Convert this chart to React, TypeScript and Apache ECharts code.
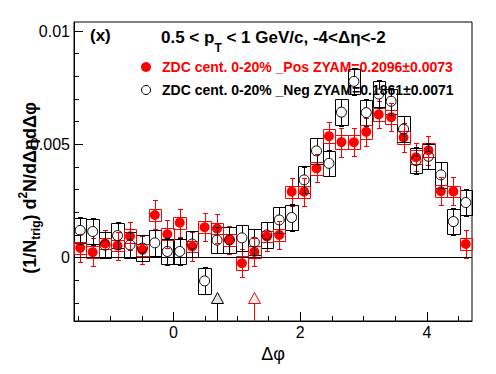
import React, { useEffect, useRef } from 'react';
import * as echarts from 'echarts';

// Bin centres in Δφ (rad)
const phi = [
  -1.473, -1.276, -1.080, -0.884, -0.687, -0.491, -0.295, -0.098,
  0.098, 0.295, 0.491, 0.687, 0.884, 1.080, 1.276, 1.473,
  1.669, 1.865, 2.062, 2.258, 2.454, 2.651, 2.847, 3.043,
  3.240, 3.436, 3.632, 3.829, 4.025, 4.221, 4.418, 4.614,
];

// ZDC cent. 0-20% _Pos (red, filled)
const posVals = [
  0.00043, 0.00024, 0.00062, 0.00053, 0.00094, 0.00034, 0.00188, 0.00103,
  0.00154, 0.00049, 0.00134, 0.00128, 0.00078, -0.00025, 0.00025, 0.00093,
  0.00100, 0.00291, 0.00291, 0.00394, 0.00536, 0.00510, 0.00509, 0.00555,
  0.00632, 0.00620, 0.00530, 0.00443, 0.00474, 0.00293, 0.00292, 0.00060,
];
const posStat = [
  0.00062, 0.00062, 0.00060, 0.00062, 0.00062, 0.00062, 0.00064, 0.00062,
  0.00062, 0.00062, 0.00062, 0.00064, 0.00062, 0.00062, 0.00062, 0.00062,
  0.00062, 0.00062, 0.00062, 0.00062, 0.00062, 0.00064, 0.00062, 0.00062,
  0.00060, 0.00062, 0.00062, 0.00062, 0.00064, 0.00062, 0.00062, 0.00062,
];
const posSys = [
  0.00026, 0.00026, 0.00026, 0.00026, 0.00030, 0.00026, 0.00026, 0.00026,
  0.00026, 0.00026, 0.00026, 0.00026, 0.00026, 0.00030, 0.00026, 0.00026,
  0.00026, 0.00026, 0.00026, 0.00030, 0.00030, 0.00030, 0.00030, 0.00030,
  0.00030, 0.00030, 0.00030, 0.00030, 0.00030, 0.00026, 0.00026, 0.00026,
];

// ZDC cent. 0-20% _Neg (black, open)
const negVals = [
  0.00120, 0.00115, 0.00055, 0.00097, 0.00056, 0.00042, 0.00065, 0.00027,
  0.00027, 0.00060, -0.00103, 0.00077, 0.00078, 0.00087, 0.00068, 0.00100,
  0.00166, 0.00177, 0.00343, 0.00471, 0.00416, 0.00642, 0.00778, 0.00640,
  0.00722, 0.00690, 0.00567, 0.00428, 0.00447, 0.00365, 0.00159, 0.00243,
];
const negStat = [
  0.00058, 0.00058, 0.00058, 0.00058, 0.00058, 0.00058, 0.00058, 0.00058,
  0.00058, 0.00058, 0.00060, 0.00058, 0.00058, 0.00058, 0.00058, 0.00058,
  0.00058, 0.00058, 0.00058, 0.00058, 0.00058, 0.00060, 0.00060, 0.00060,
  0.00060, 0.00060, 0.00058, 0.00058, 0.00058, 0.00058, 0.00058, 0.00058,
];
const negSys = [
  0.00056, 0.00056, 0.00056, 0.00056, 0.00056, 0.00056, 0.00056, 0.00056,
  0.00056, 0.00056, 0.00056, 0.00056, 0.00056, 0.00056, 0.00056, 0.00056,
  0.00056, 0.00056, 0.00060, 0.00056, 0.00056, 0.00056, 0.00056, 0.00056,
  0.00056, 0.00056, 0.00056, 0.00056, 0.00056, 0.00056, 0.00056, 0.00056,
];

// ZYAM minimum positions (arrows)
const zyamNegPhi = [0.687];
const zyamPosPhi = [1.276];

const xMajorTicks = [0, 2, 4];
const xMinorTicks = [-1.5, -1, -0.5, 0, 0.5, 1, 1.5, 2, 2.5, 3, 3.5, 4, 4.5];
const yMajorTicks = [0, 0.005, 0.01];
const yMinorTicks = [-0.002, -0.001, 0, 0.001, 0.002, 0.003, 0.004, 0.005, 0.006, 0.007, 0.008, 0.009, 0.01];

const posLabel = 'ZDC cent. 0-20% _Pos ZYAM=0.2096±0.0073';
const negLabel = 'ZDC cent. 0-20% _Neg ZYAM=0.1861±0.0071';

const X_MIN = -Math.PI / 2;
const X_MAX = (3 * Math.PI) / 2;
const Y_MIN = -0.0028;
const Y_MAX = 0.0104;
const BIN_W = Math.PI / 16;
const FONT = '"Liberation Sans", Arial, Helvetica, sans-serif';
const RED = '#ff0000';

const snap = (v: number) => Math.round(v) + 0.5;

function boxRender(color: string) {
  return (params: any, api: any) => {
    const x = api.value(0);
    const v = api.value(1);
    const s = api.value(2);
    const p1 = api.coord([x - BIN_W / 2, v + s]);
    const p2 = api.coord([x + BIN_W / 2, v - s]);
    const x1 = snap(p1[0]);
    const y1 = snap(p1[1]);
    const x2 = snap(p2[0]);
    const y2 = snap(p2[1]);
    return {
      type: 'rect',
      shape: { x: x1, y: y1, width: x2 - x1, height: y2 - y1 },
      style: { fill: 'none', stroke: color, lineWidth: 1 },
    };
  };
}

function errRender(color: string, r: number) {
  return (params: any, api: any) => {
    const x = api.value(0);
    const v = api.value(1);
    const e = api.value(2);
    const c = api.coord([x, v]);
    const t = api.coord([x, v + e]);
    const b = api.coord([x, v - e]);
    const cx = snap(c[0]);
    const ty = snap(t[1]);
    const by = snap(b[1]);
    const cap = 2;
    const st = { stroke: color, lineWidth: 1 };
    const children: any[] = [];
    if (ty < c[1] - r) children.push({ type: 'line', shape: { x1: cx, y1: ty, x2: cx, y2: c[1] - r }, style: st });
    if (by > c[1] + r) children.push({ type: 'line', shape: { x1: cx, y1: c[1] + r, x2: cx, y2: by }, style: st });
    children.push({ type: 'line', shape: { x1: cx - cap - 0.5, y1: ty, x2: cx + cap + 0.5, y2: ty }, style: st });
    children.push({ type: 'line', shape: { x1: cx - cap - 0.5, y1: by, x2: cx + cap + 0.5, y2: by }, style: st });
    return { type: 'group', children };
  };
}

function arrowRender(color: string, fill: string) {
  return (params: any, api: any) => {
    const x = api.value(0);
    const base = api.coord([x, Y_MIN]);
    const bx = snap(base[0]);
    const triBottom = Math.round(base[1] - 18) + 0.5;
    const triTop = triBottom - 11;
    const hw = 6;
    return {
      type: 'group',
      children: [
        { type: 'line', shape: { x1: bx, y1: base[1], x2: bx, y2: triBottom }, style: { stroke: color, lineWidth: 1 } },
        {
          type: 'polygon',
          shape: { points: [[bx - hw, triBottom], [bx + hw, triBottom], [bx, triTop]] },
          style: { fill, stroke: color, lineWidth: 1 },
        },
      ],
    };
  };
}

export default function App() {
  const ref = useRef<HTMLDivElement>(null);
  useEffect(() => {
    if (!ref.current) return;
    const chart = echarts.init(ref.current, undefined, { renderer: 'svg' });
    const posData = phi.map((p, i) => [p, posVals[i]]);
    const negData = phi.map((p, i) => [p, negVals[i]]);
    const option: any = {
      animation: false,
      backgroundColor: '#fff',
      grid: {
        left: 74, top: 22, width: 398, height: 299,
        show: true, borderColor: '#000', borderWidth: 1, backgroundColor: 'transparent',
      },
      xAxis: [
        {
          type: 'value', min: X_MIN, max: X_MAX, position: 'bottom',
          axisLine: { show: true, onZero: false, lineStyle: { color: '#000', width: 1 } },
          axisTick: { show: true, inside: true, length: 9, customValues: xMajorTicks, lineStyle: { color: '#000' } },
          axisLabel: { show: true, customValues: xMajorTicks, color: '#000', fontSize: 16, fontFamily: FONT, margin: 3 },
          splitLine: { show: false },
          name: 'Δφ', nameLocation: 'middle', nameGap: 23,
          nameTextStyle: { color: '#000', fontSize: 18, fontFamily: FONT, verticalAlign: 'top' },
        },
        {
          type: 'value', min: X_MIN, max: X_MAX, position: 'bottom',
          axisLine: { show: false, onZero: false },
          axisTick: { show: true, inside: true, length: 5, customValues: xMinorTicks, lineStyle: { color: '#000' } },
          axisLabel: { show: false },
          splitLine: { show: false },
        },
      ],
      yAxis: [
        {
          type: 'value', min: Y_MIN, max: Y_MAX, position: 'left',
          axisLine: { show: true, onZero: false, lineStyle: { color: '#000', width: 1 } },
          axisTick: { show: true, inside: true, length: 9, customValues: yMajorTicks, lineStyle: { color: '#000' } },
          axisLabel: { show: true, customValues: yMajorTicks, color: '#000', fontSize: 16, fontFamily: FONT, margin: 4 },
          splitLine: { show: false },
        },
        {
          type: 'value', min: Y_MIN, max: Y_MAX, position: 'left',
          axisLine: { show: false, onZero: false },
          axisTick: { show: true, inside: true, length: 5, customValues: yMinorTicks, lineStyle: { color: '#000' } },
          axisLabel: { show: false },
          splitLine: { show: false },
        },
      ],
      series: [
        {
          type: 'custom', name: 'negSys', z: 1, renderItem: boxRender('#000'),
          data: phi.map((p, i) => [p, negVals[i], negSys[i]]),
          markLine: {
            silent: true, symbol: ['none', 'none'], label: { show: false },
            lineStyle: { color: '#000', width: 1, type: 'solid' },
            data: [{ yAxis: 0 }],
          },
        },
        { type: 'custom', name: 'posSys', z: 2, renderItem: boxRender(RED), data: phi.map((p, i) => [p, posVals[i], posSys[i]]) },
        { type: 'custom', name: 'posStat', z: 3, renderItem: errRender(RED, 0), data: phi.map((p, i) => [p, posVals[i], posStat[i]]) },
        {
          type: 'scatter', name: posLabel, z: 4, symbol: 'circle', symbolSize: 10,
          itemStyle: { color: RED, opacity: 1 }, data: posData,
        },
        { type: 'custom', name: 'negStat', z: 5, renderItem: errRender('#000', 5), data: phi.map((p, i) => [p, negVals[i], negStat[i]]) },
        {
          type: 'scatter', name: negLabel, z: 6, symbol: 'circle', symbolSize: 10,
          itemStyle: { color: 'rgba(255,255,255,0)', borderColor: '#000', borderWidth: 1, opacity: 1 }, data: negData,
        },
        { type: 'custom', name: 'zyamNeg', z: 7, renderItem: arrowRender('#000', '#e4e4e4'), data: zyamNegPhi.map((p) => [p]) },
        { type: 'custom', name: 'zyamPos', z: 7, renderItem: arrowRender(RED, '#f2f2f2'), data: zyamPosPhi.map((p) => [p]) },
      ],
      graphic: [
        {
          type: 'text', left: 90, top: 27,
          style: { text: '(x)', fill: '#000', font: `bold 17px ${FONT}` },
        },
        {
          type: 'text', x: 161, y: 37,
          style: {
            text: '{a|0.5 < p}{sub|T}{a| < 1 GeV/c, -4<Δη<-2}',
            align: 'left', verticalAlign: 'middle',
            rich: {
              a: { fontSize: 17, fontWeight: 'bold', fontFamily: FONT, fill: '#000', verticalAlign: 'middle' },
              sub: { fontSize: 12, fontWeight: 'bold', fontFamily: FONT, fill: '#000', verticalAlign: 'middle', padding: [22, 0, 0, 0] },
            },
          },
        },
        { type: 'circle', shape: { cx: 146, cy: 67, r: 5 }, style: { fill: RED } },
        {
          type: 'text', x: 162, y: 67,
          style: { text: posLabel, fill: RED, font: `bold 14px ${FONT}`, align: 'left', verticalAlign: 'middle' },
        },
        { type: 'circle', shape: { cx: 146, cy: 90, r: 4.5 }, style: { fill: 'none', stroke: '#000', lineWidth: 1 } },
        {
          type: 'text', x: 162, y: 90,
          style: { text: negLabel, fill: '#000', font: `bold 14px ${FONT}`, align: 'left', verticalAlign: 'middle' },
        },
        {
          type: 'text', x: 30, y: 188, rotation: Math.PI / 2,
          style: {
            text: '{a|(1/N}{sub|trig}{a|) d}{sup|2}{a|N/dΔηdΔφ}',
            align: 'center', verticalAlign: 'middle',
            rich: {
              a: { fontSize: 18, fontWeight: 'bold', fontFamily: FONT, fill: '#000', verticalAlign: 'middle' },
              sub: { fontSize: 12, fontWeight: 'bold', fontFamily: FONT, fill: '#000', verticalAlign: 'middle', padding: [12, 0, 0, 0] },
              sup: { fontSize: 12, fontWeight: 'bold', fontFamily: FONT, fill: '#000', verticalAlign: 'middle', padding: [0, 0, 14, 0] },
            },
          },
        },
      ],
    };
    chart.setOption(option);
    return () => chart.dispose();
  }, []);
  return <div ref={ref} style={{ position: 'absolute', left: 0, top: 0, width: 496, height: 374 }} />;
}
